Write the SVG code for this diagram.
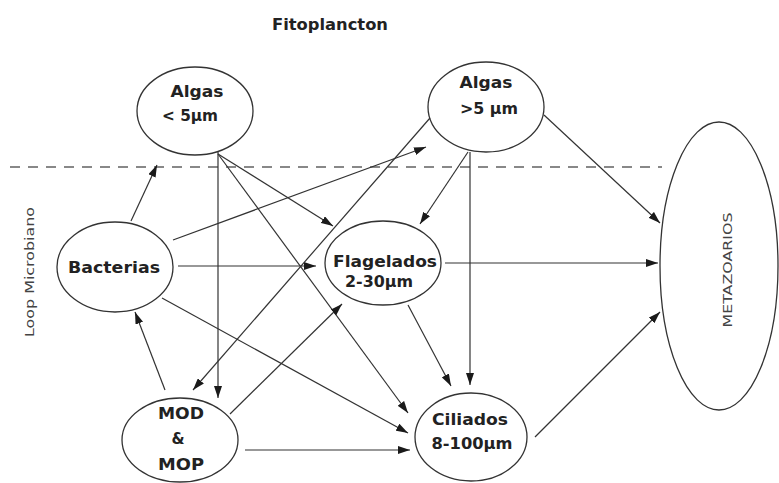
<svg xmlns="http://www.w3.org/2000/svg" width="779" height="483" viewBox="0 0 779 483">
<defs>
<marker id="ah" markerUnits="userSpaceOnUse" markerWidth="12" markerHeight="8" refX="12" refY="4" orient="auto">
<path d="M0,0 L12,4 L0,8 z" fill="#1a1a1a"/>
</marker>
<style>
.n{fill:#fff;stroke:#333;stroke-width:1.3}
.t{font-family:"DejaVu Sans","Liberation Sans",sans-serif;font-weight:bold;font-size:15px;fill:#222}
.c line{stroke:#333;stroke-width:1.2;marker-end:url(#ah)}
.s{font-family:"DejaVu Sans","Liberation Sans",sans-serif;font-size:12px;fill:#444}
</style>
</defs>
<rect width="779" height="483" fill="#fff"/>
<text class="t" x="330" y="30" text-anchor="middle" textLength="116" lengthAdjust="spacingAndGlyphs">Fitoplancton</text>
<line x1="10" y1="167" x2="662" y2="167" stroke="#888" stroke-width="2" stroke-dasharray="10 8"/>
<text class="s" transform="translate(34,272) rotate(-90)" text-anchor="middle" textLength="130" lengthAdjust="spacingAndGlyphs">Loop Microbiano</text>
<g id="algas-small"><ellipse class="n" cx="195" cy="111" rx="58" ry="44"/>
<text class="t" x="197" y="97" text-anchor="middle" textLength="53" lengthAdjust="spacingAndGlyphs">Algas</text>
<text class="t" x="190" y="121" text-anchor="middle" textLength="56" lengthAdjust="spacingAndGlyphs">&lt; 5µm</text></g>
<g id="algas-large"><ellipse class="n" cx="486" cy="107" rx="58" ry="45"/>
<text class="t" x="486" y="88" text-anchor="middle" textLength="53" lengthAdjust="spacingAndGlyphs">Algas</text>
<text class="t" x="489" y="114" text-anchor="middle" textLength="58" lengthAdjust="spacingAndGlyphs">&gt;5 µm</text></g>
<g id="metazoarios"><ellipse class="n" cx="719" cy="266" rx="59" ry="144"/>
<text class="s" transform="translate(732,270) rotate(-90)" text-anchor="middle" textLength="115" lengthAdjust="spacingAndGlyphs">METAZOARIOS</text></g>
<g id="bacterias"><ellipse class="n" cx="115" cy="267" rx="58" ry="45"/>
<text class="t" x="114" y="273" text-anchor="middle" textLength="92" lengthAdjust="spacingAndGlyphs">Bacterias</text></g>
<g id="flagelados"><ellipse class="n" cx="383" cy="263" rx="58" ry="42"/>
<text class="t" x="385" y="267" text-anchor="middle" textLength="104" lengthAdjust="spacingAndGlyphs">Flagelados</text>
<text class="t" x="379" y="287" text-anchor="middle" textLength="68" lengthAdjust="spacingAndGlyphs">2-30µm</text></g>
<g id="mod-mop"><ellipse class="n" cx="180" cy="440" rx="58" ry="42"/>
<text class="t" x="181" y="419" text-anchor="middle" textLength="46" lengthAdjust="spacingAndGlyphs">MOD</text>
<text class="t" x="178" y="444" text-anchor="middle">&amp;</text>
<text class="t" x="181" y="470" text-anchor="middle" textLength="46" lengthAdjust="spacingAndGlyphs">MOP</text></g>
<g id="ciliados"><ellipse class="n" cx="471" cy="437" rx="56" ry="44"/>
<text class="t" x="470" y="425" text-anchor="middle" textLength="76" lengthAdjust="spacingAndGlyphs">Ciliados</text>
<text class="t" x="472" y="449" text-anchor="middle" textLength="81" lengthAdjust="spacingAndGlyphs">8-100µm</text></g>
<g id="connectors" class="c">
<line x1="131" y1="221" x2="157" y2="165"/>
<line x1="173" y1="240" x2="426" y2="147"/>
<line x1="178" y1="266" x2="316" y2="266"/>
<line x1="162" y1="298" x2="408" y2="433"/>
<line x1="218" y1="152" x2="218" y2="398"/>
<line x1="218" y1="154" x2="333" y2="226"/>
<line x1="218" y1="154" x2="408" y2="413"/>
<line x1="430" y1="118" x2="193" y2="390"/>
<line x1="468" y1="152" x2="420" y2="224"/>
<line x1="470" y1="152" x2="470" y2="385"/>
<line x1="544" y1="115" x2="660" y2="223"/>
<line x1="445" y1="263" x2="658" y2="263"/>
<line x1="408" y1="305" x2="451" y2="386"/>
<line x1="230" y1="414" x2="342" y2="304"/>
<line x1="165" y1="390" x2="135" y2="312"/>
<line x1="245" y1="450" x2="410" y2="450"/>
<line x1="535" y1="437" x2="660" y2="312"/>
</g>
</svg>
